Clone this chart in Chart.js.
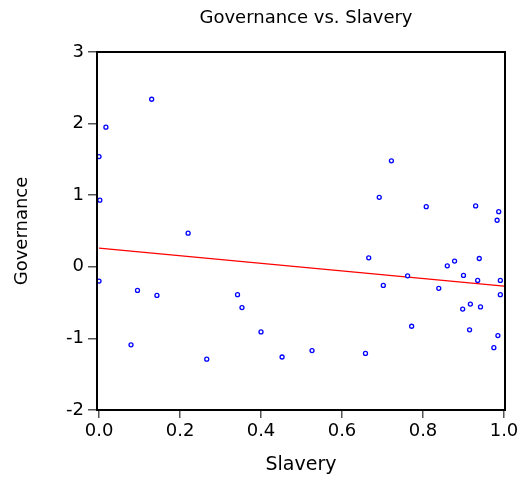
<!DOCTYPE html>
<html>
<head>
<meta charset="utf-8">
<script src="https://cdn.jsdelivr.net/npm/chart.js@4.4.1/dist/chart.umd.min.js"></script>
<style>
html,body{margin:0;padding:0;background:#fff;}
#wrap{width:522px;height:481px;position:relative;}
</style>
</head>
<body>
<div id="wrap"><canvas id="c" width="522" height="481"></canvas></div>
<script>
const chartTitle = "Governance vs. Slavery";
const xTitle = "Slavery";
const yTitle = "Governance";
const slavery = [0.130,0.017,0.000,0.002,0.220,0.722,0.692,0.808,0.930,0.987,0.983,
  0.000,0.095,0.143,0.342,0.353,0.400,0.079,0.266,0.452,
  0.526,0.658,0.666,0.702,0.762,0.772,0.839,0.860,0.878,0.900,0.898,0.917,0.915,0.939,0.935,0.942,0.991,0.991,0.985,0.975];
const governance = [2.34,1.95,1.54,0.93,0.47,1.48,0.97,0.84,0.85,0.77,0.65,
  -0.20,-0.33,-0.40,-0.39,-0.57,-0.91,-1.09,-1.29,-1.26,
  -1.17,-1.21,0.126,-0.26,-0.126,-0.83,-0.30,0.014,0.08,-0.12,-0.59,-0.52,-0.88,0.116,-0.19,-0.56,-0.19,-0.39,-0.96,-1.13];
const fitX = [0, 1];
const fitY = [0.26, -0.27];
const xTicks = [0, 0.2, 0.4, 0.6, 0.8, 1.0];
const yTicks = [-2, -1, 0, 1, 2, 3];

const FONT = "'DejaVu Sans', sans-serif";

const framePlugin = {
  id: 'frame',
  afterDraw(chart) {
    const {ctx, chartArea: a} = chart;
    ctx.save();
    ctx.strokeStyle = '#000';
    ctx.lineWidth = 2;
    ctx.strokeRect(a.left, a.top, a.right - a.left, a.bottom - a.top);
    ctx.fillStyle = '#000';
    ctx.font = '18px ' + FONT;
    ctx.textAlign = 'center';
    ctx.textBaseline = 'middle';
    ctx.fillText(chartTitle, (a.left + a.right) / 2 + 5, 18);
    ctx.restore();
  }
};

new Chart(document.getElementById('c'), {
  type: 'scatter',
  data: {
    datasets: [
      {
        type: 'scatter',
        data: slavery.map((x, i) => ({x: x, y: governance[i]})),
        pointStyle: 'circle',
        pointRadius: 2,
        pointBorderWidth: 1.3,
        borderColor: '#0000ff',
        backgroundColor: '#ffffff',
        order: 1
      },
      {
        type: 'line',
        data: fitX.map((x, i) => ({x: x, y: fitY[i]})),
        borderColor: '#ff0000',
        borderWidth: 1.3,
        pointRadius: 0,
        fill: false,
        order: 2
      }
    ]
  },
  options: {
    responsive: false,
    animation: false,
    layout: {padding: {top: 52, right: 17, left: 0, bottom: 0}},
    plugins: {legend: {display: false}, tooltip: {enabled: false}, title: {display: false}},
    scales: {
      x: {
        type: 'linear',
        min: -0.005,
        max: 1.0025,
        afterBuildTicks: s => { s.ticks = xTicks.map(v => ({value: v})); },
        afterFit: s => { s.height = 71; },
        grid: {drawOnChartArea: false, drawTicks: true, tickLength: 8, color: '#555', lineWidth: 1.5},
        border: {display: false},
        ticks: {color: '#000', font: {family: FONT, size: 18}, padding: 3, maxRotation: 0,
          callback: v => Number(v).toFixed(1)},
        title: {display: true, text: xTitle, color: '#000', font: {family: FONT, size: 19}, padding: {bottom: 5, top: 0}}
      },
      y: {
        type: 'linear',
        min: -2,
        max: 3,
        afterBuildTicks: s => { s.ticks = yTicks.map(v => ({value: v})); },
        afterFit: s => { s.width = 97; },
        grid: {drawOnChartArea: false, drawTicks: true, tickLength: 9, color: '#555', lineWidth: 1.5},
        border: {display: false},
        ticks: {color: '#000', font: {family: FONT, size: 18}, padding: 4,
          callback: v => String(v)},
        title: {display: true, text: yTitle, color: '#000', font: {family: FONT, size: 18}, padding: {top: 12, bottom: 0}}
      }
    }
  },
  plugins: [framePlugin]
});
</script>
</body>
</html>
